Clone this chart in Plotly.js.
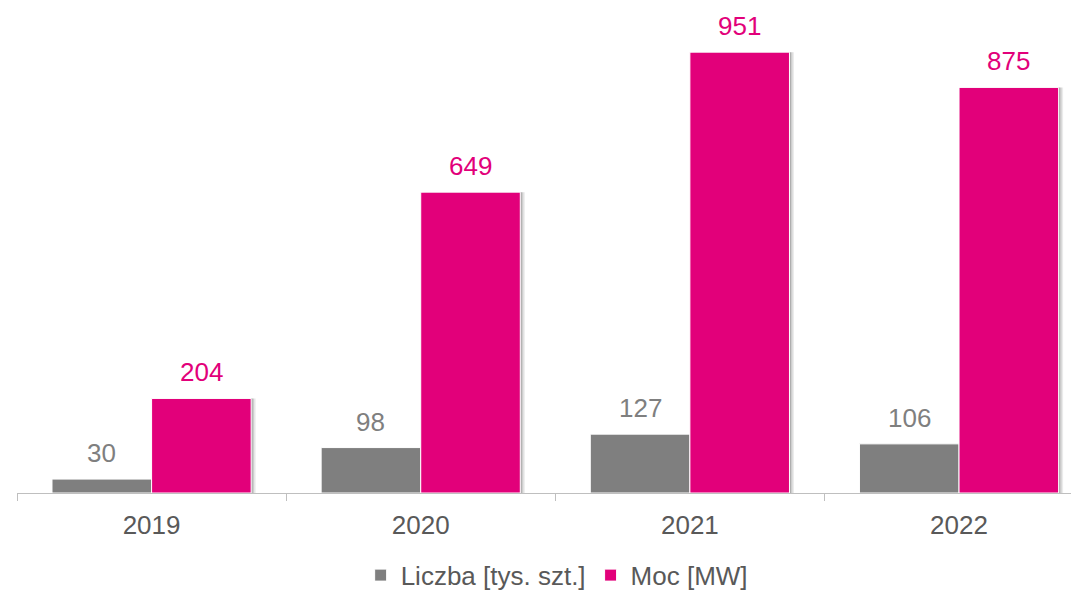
<!DOCTYPE html>
<html>
<head>
<meta charset="utf-8">
<script src="https://cdn.plot.ly/plotly-3.0.1.min.js"></script>
<style>html,body{margin:0;padding:0;background:#fff;}#chart{width:1071px;height:593px;}</style>
</head>
<body>
<div id="chart"></div>
<script>
const years = ['2019', '2020', '2021', '2022'];
const liczba = [30, 98, 127, 106];
const moc = [204, 649, 951, 875];
const seriesNames = ['Liczba [tys. szt.]', 'Moc [MW]'];

const grayColor = '#7f7f7f';
const pinkColor = '#e2007a';
const FONT = 'Liberation Sans, Arial, sans-serif';

const BW = 0.37;            // bar width in category units
const PX = 1 / 269.3;       // one pixel in category units

const traces = [];
// soft shadow to the right of the pink bars
[[1.5, 0.16], [3, 0.12], [4.5, 0.08]].forEach(function (s) {
  traces.push({
    type: 'bar', x: years, y: moc, width: BW, offset: s[0] * PX,
    marker: {color: 'rgba(0,0,0,' + s[1] + ')', line: {width: 0}},
    showlegend: false, hoverinfo: 'none'
  });
});
traces.push({
  type: 'bar', name: seriesNames[0], x: years, y: liczba, width: BW, offset: -BW,
  marker: {color: grayColor, line: {color: '#ffffff', width: 1}},
  hoverinfo: 'none'
});
traces.push({
  type: 'bar', name: seriesNames[1], x: years, y: moc, width: BW, offset: 0,
  marker: {color: pinkColor, line: {color: '#ffffff', width: 1}},
  hoverinfo: 'none'
});

const annotations = [];
years.forEach(function (yr, i) {
  annotations.push({
    x: i - BW / 2, y: liczba[i], xref: 'x', yref: 'y', text: String(liczba[i]),
    showarrow: false, yanchor: 'bottom', yshift: 9,
    font: {family: FONT, size: 26, color: '#7f7f7f'}
  });
  annotations.push({
    x: i + BW / 2, y: moc[i], xref: 'x', yref: 'y', text: String(moc[i]),
    showarrow: false, yanchor: 'bottom', yshift: 9,
    font: {family: FONT, size: 26, color: pinkColor}
  });
});

const layout = {
  width: 1071, height: 593,
  margin: {l: 17, r: 0, t: 29, b: 100},
  paper_bgcolor: '#ffffff', plot_bgcolor: '#ffffff',
  barmode: 'overlay',
  font: {family: FONT, color: '#595959'},
  xaxis: {
    type: 'category', range: [-0.5, 3.416],
    showline: true, linecolor: '#bfbfbf', linewidth: 1,
    ticks: 'outside', tickson: 'boundaries', ticklen: 7, tickcolor: '#bfbfbf', tickwidth: 1,
    ticklabelstandoff: 9,
    tickfont: {size: 26, color: '#595959'}, showgrid: false, zeroline: false
  },
  yaxis: {
    range: [0, 1001], visible: false, showgrid: false, zeroline: false
  },
  annotations: annotations,
  showlegend: true,
  legend: {
    orientation: 'h', x: 0.512, xanchor: 'center', yref: 'container', y: 0.03, yanchor: 'middle',
    font: {size: 26, color: '#595959'}, itemwidth: 30, traceorder: 'normal'
  }
};

Plotly.newPlot('chart', traces, layout, {displayModeBar: false, staticPlot: true});
</script>
</body>
</html>
